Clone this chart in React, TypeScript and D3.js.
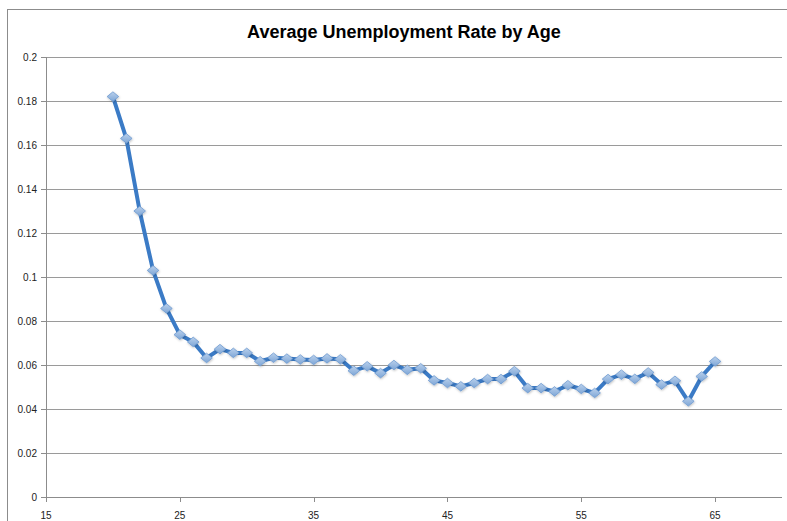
import React from "react";
import * as d3 from "d3";

// Average unemployment rate for each age from 20 to 65
const ages: number[] = [
  20, 21, 22, 23, 24, 25, 26, 27, 28, 29, 30, 31, 32, 33, 34, 35, 36, 37, 38, 39, 40, 41, 42,
  43, 44, 45, 46, 47, 48, 49, 50, 51, 52, 53, 54, 55, 56, 57, 58, 59, 60, 61, 62, 63, 64, 65,
];
const rates: number[] = [
  0.182, 0.163, 0.13, 0.103, 0.0857, 0.0738, 0.0705, 0.0632, 0.0672, 0.0655, 0.0655, 0.0617,
  0.0633, 0.0629, 0.0625, 0.0623, 0.063, 0.0626, 0.0574, 0.0594, 0.0563, 0.06, 0.0578, 0.0585,
  0.053, 0.0518, 0.0503, 0.0518, 0.0536, 0.0536, 0.0572, 0.0495, 0.0495, 0.048, 0.0508, 0.0491,
  0.0473, 0.0536, 0.0556, 0.0537, 0.0566, 0.0511, 0.0528, 0.0435, 0.0548, 0.0616,
];
const xTicks: number[] = [15, 25, 35, 45, 55, 65];
const yTicks: number[] = [0, 0.02, 0.04, 0.06, 0.08, 0.1, 0.12, 0.14, 0.16, 0.18, 0.2];
const title = "Average Unemployment Rate by Age";

const W = 787;
const H = 521;
const plot = { left: 46, right: 782, top: 57, bottom: 497 };

export default function App() {
  const x = d3.scaleLinear().domain([15, 70]).range([plot.left, plot.right]);
  const y = d3.scaleLinear().domain([0, 0.2]).range([plot.bottom, plot.top]);
  const points = ages.map((a, i) => [a, rates[i]] as [number, number]);
  const line = d3
    .line<[number, number]>()
    .x((d) => x(d[0]))
    .y((d) => y(d[1]));
  const diamond = "M0,-4.8 L5.8,0 L0,4.8 L-5.8,0 Z";
  const font = "'Liberation Sans', Arial, sans-serif";

  return (
    <svg
      width={W}
      height={H}
      style={{ position: "absolute", left: 0, top: 0, background: "#fff" }}
    >
      <defs>
        <linearGradient id="mk" x1="0" y1="0" x2="0" y2="1">
          <stop offset="0" stopColor="#b9d0ec" />
          <stop offset="1" stopColor="#7ea6d6" />
        </linearGradient>
        <filter id="sh" x="-50%" y="-50%" width="200%" height="200%">
          <feDropShadow dx="0.5" dy="1" stdDeviation="0.8" floodColor="#000" floodOpacity="0.25" />
        </filter>
      </defs>
      {/* chart frame */}
      <rect x={7.5} y={9.5} width={W + 10} height={H + 10} fill="none" stroke="#8c8c8c" />
      <text
        x={404}
        y={38}
        textAnchor="middle"
        fontFamily={font}
        fontWeight="bold"
        fontSize={18}
        fill="#000"
      >
        {title}
      </text>
      {/* horizontal gridlines */}
      {yTicks.map((t) => (
        <g key={t}>
          {t > 0 && (
            <line
              x1={plot.left}
              x2={plot.right}
              y1={Math.round(y(t)) + 0.5}
              y2={Math.round(y(t)) + 0.5}
              stroke="#9a9a9a"
            />
          )}
          <line
            x1={plot.left - 5}
            x2={plot.left}
            y1={Math.round(y(t)) + 0.5}
            y2={Math.round(y(t)) + 0.5}
            stroke="#8c8c8c"
          />
          <text
            x={37}
            y={y(t) + 3.5}
            textAnchor="end"
            fontFamily={font}
            fontSize={10}
            fill="#222"
          >
            {String(t)}
          </text>
        </g>
      ))}
      {/* axes */}
      <line
        x1={plot.left + 0.5}
        x2={plot.left + 0.5}
        y1={plot.top}
        y2={plot.bottom}
        stroke="#8c8c8c"
      />
      <line
        x1={plot.left}
        x2={plot.right}
        y1={plot.bottom + 0.5}
        y2={plot.bottom + 0.5}
        stroke="#8c8c8c"
      />
      {xTicks.map((t) => (
        <g key={t}>
          <line
            x1={Math.round(x(t)) + 0.5}
            x2={Math.round(x(t)) + 0.5}
            y1={plot.bottom}
            y2={plot.bottom + 5}
            stroke="#8c8c8c"
          />
          <text
            x={x(t)}
            y={plot.bottom + 22}
            textAnchor="middle"
            fontFamily={font}
            fontSize={10}
            fill="#222"
          >
            {String(t)}
          </text>
        </g>
      ))}
      {/* series */}
      <path
        d={line(points) || ""}
        fill="none"
        stroke="#3b7bc6"
        strokeWidth={4}
        strokeLinejoin="round"
        strokeLinecap="round"
      />
      <g filter="url(#sh)">
        {points.map((p) => (
          <path
            key={p[0]}
            d={diamond}
            transform={`translate(${x(p[0])},${y(p[1])})`}
            fill="url(#mk)"
            stroke="#6f9bd0"
            strokeWidth={0.8}
          />
        ))}
      </g>
    </svg>
  );
}
